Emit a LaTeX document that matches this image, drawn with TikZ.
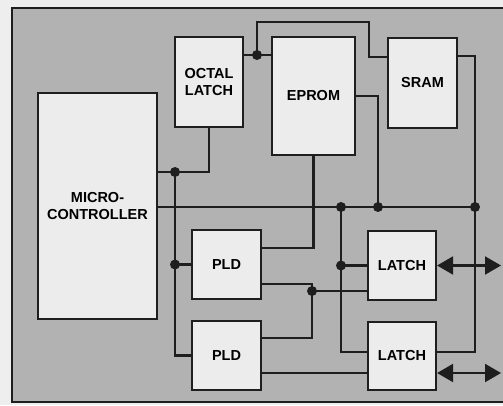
\documentclass[tikz,border=0pt]{standalone}
\usepackage{fontspec}
\setmainfont{Liberation Sans}
\usetikzlibrary{arrows.meta,calc}
\definecolor{bggray}{RGB}{178,178,178}
\definecolor{boxfill}{RGB}{236,236,236}
\definecolor{outside}{RGB}{238,238,238}
\definecolor{ink}{RGB}{30,30,30}
\begin{document}
\begin{tikzpicture}[x=1pt,y=-1pt,
  blk/.style={draw=ink,line width=2.2pt,fill=boxfill,rectangle,inner sep=0pt,
    font=\fontsize{14.5}{16.5}\selectfont\bfseries,align=center},
  wire/.style={draw=ink,line width=2.1pt},
  dot/.style={circle,fill=ink,inner sep=0pt,minimum size=10pt},
  bidir/.style={wire,{Triangle[length=16pt,width=18pt]}-{Triangle[length=16pt,width=18pt]}}]
\useasboundingbox (0,0) rectangle (503,405);
\clip (0,0) rectangle (503,405);
\fill[outside] (0,0) rectangle (503,405);
\draw[draw=ink,line width=2.4pt,fill=bggray] (12,8) rectangle (520,402);
% blocks
\node[blk,minimum width=119pt,minimum height=226pt] (micro) at (97.5,206) {MICRO-\\CONTROLLER};
\node[blk,minimum width=68pt,minimum height=90pt] (octal) at (209,82) {OCTAL\\LATCH};
\node[blk,minimum width=83pt,minimum height=118pt] (eprom) at (313.5,96) {EPROM};
\node[blk,minimum width=69pt,minimum height=90pt] (sram) at (422.5,83) {SRAM};
\node[blk,minimum width=69pt,minimum height=69pt] (pld1) at (226.5,264.5) {PLD};
\node[blk,minimum width=69pt,minimum height=69pt] (pld2) at (226.5,355.5) {PLD};
\node[blk,minimum width=68pt,minimum height=69pt] (latch1) at (402,265.5) {LATCH};
\node[blk,minimum width=68pt,minimum height=68pt] (latch2) at (402,356) {LATCH};
% junction coordinates
\coordinate (jA) at (175,172);
\coordinate (jB) at (175,264.5);
\coordinate (jC) at (341,207);
\coordinate (jD) at (378,207);
\coordinate (jE) at (475,207);
\coordinate (jF) at (341,265.5);
\coordinate (jG) at (312,291);
\coordinate (jT) at (257,55);
\coordinate (rA) at (501,265.5);
\coordinate (rB) at (501,373);
% octal latch to micro and PLDs
\draw[wire] (octal.south) -- (octal.south |- jA) -- (jA) -- (micro.east |- jA);
\draw[wire] (jA) -- (jA |- pld2.west) -- (pld2.west);
\draw[wire] (jB) -- (pld1.west);
% main bus
\draw[wire] (micro.east |- jC) -- (jE);
% eprom
\draw[wire] (eprom.south) -- ($(eprom.south)+(0,92)$) -- (pld1.east |- {$(eprom.south)+(0,92)$});
\draw[wire] (eprom.east) -- (jD |- eprom.east) -- (jD);
% sram
\draw[wire] ($(sram.north east)+(0,19)$) -- (jE |- {$(sram.north east)+(0,19)$}) -- (jE) -- (475,352) -- (latch2.east |- {(0,352)});
% top link
\draw[wire] (octal.east |- jT) -- (jT) -- (eprom.west |- jT);
\draw[wire] (jT) -- (257,22) -- (369,22) -- (369,57) -- (sram.west |- {(0,57)});
% latch control
\draw[wire] (jC) -- (341,352) -- (latch2.west |- {(0,352)});
\draw[wire] (jF) -- (latch1.west);
% PLD outputs
\draw[wire] (pld1.east |- {(0,284)}) -- (312,284) -- (312,338) -- (pld2.east |- {(0,338)});
\draw[wire] (jG) -- (latch1.west |- jG);
\draw[wire] (pld2.east |- {(0,373)}) -- (latch2.west |- {(0,373)});
% data arrows
\draw[bidir] (latch1.east) -- (rA);
\draw[bidir] (latch2.east |- rB) -- (rB);
% dots
\foreach \j in {jA,jB,jC,jD,jE,jF,jG,jT} \node[dot] at (\j) {};
\end{tikzpicture}
\end{document}
